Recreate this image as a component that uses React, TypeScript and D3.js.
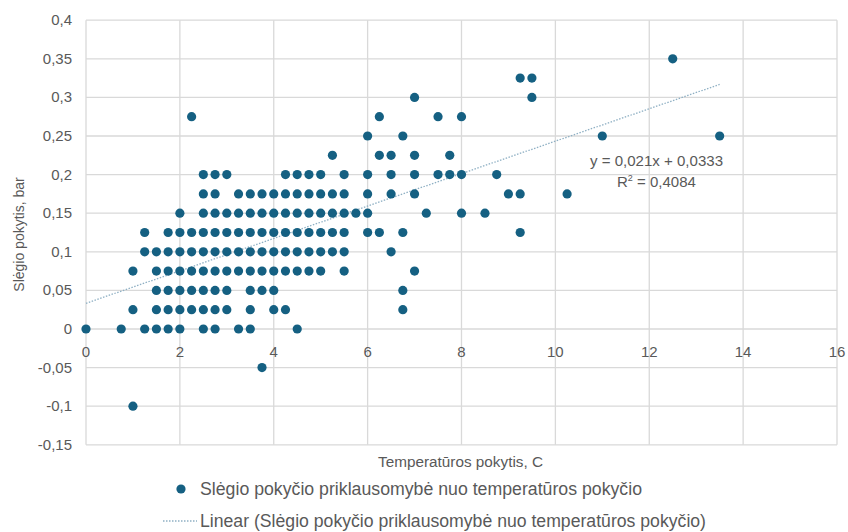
import React from "react";
import * as d3 from "d3";

// Pressure change levels (bar) and the temperature changes (C) observed at each level
const pressureLevels = [0.35, 0.325, 0.3, 0.275, 0.25, 0.225, 0.2, 0.175, 0.15, 0.125, 0.1, 0.075, 0.05, 0.025, 0, -0.05, -0.1];
const temperatureByLevel = [
  [12.5],
  [9.25, 9.5],
  [7.0, 9.5],
  [2.25, 6.25, 7.5, 8.0],
  [6.0, 6.75, 11.0, 13.5],
  [5.25, 6.25, 6.5, 7.0, 7.75],
  [2.5, 2.75, 3.0, 4.25, 4.5, 4.75, 5.0, 5.5, 6.0, 6.5, 7.0, 7.5, 7.75, 8.0, 8.75],
  [2.5, 2.75, 3.25, 3.5, 3.75, 4.0, 4.25, 4.5, 4.75, 5.0, 5.25, 5.5, 6.0, 6.5, 7.0, 9.0, 9.25, 10.25],
  [2.0, 2.5, 2.75, 3.0, 3.25, 3.5, 3.75, 4.0, 4.25, 4.5, 4.75, 5.0, 5.25, 5.5, 5.75, 6.0, 7.25, 8.0, 8.5],
  [1.25, 1.75, 2.0, 2.25, 2.5, 2.75, 3.0, 3.25, 3.5, 3.75, 4.0, 4.25, 4.5, 4.75, 5.0, 5.25, 5.5, 6.0, 6.25, 6.75, 9.25],
  [1.25, 1.5, 1.75, 2.0, 2.25, 2.5, 2.75, 3.0, 3.25, 3.5, 3.75, 4.0, 4.25, 4.5, 4.75, 5.0, 5.25, 5.5, 6.5],
  [1.0, 1.5, 1.75, 2.0, 2.25, 2.5, 2.75, 3.0, 3.25, 3.5, 3.75, 4.0, 4.25, 4.5, 4.75, 5.0, 5.5, 7.0],
  [1.5, 1.75, 2.0, 2.25, 2.5, 2.75, 3.0, 3.5, 3.75, 4.0, 6.75],
  [1.0, 1.5, 1.75, 2.0, 2.25, 2.5, 2.75, 3.0, 3.5, 4.0, 4.25, 6.75],
  [0, 0.75, 1.25, 1.5, 1.75, 2.0, 2.5, 2.75, 3.25, 3.5, 4.5],
  [3.75],
  [1.0],
];

const xTicks = [0, 2, 4, 6, 8, 10, 12, 14, 16];
const yTicks = [0.4, 0.35, 0.3, 0.25, 0.2, 0.15, 0.1, 0.05, 0, -0.05, -0.1, -0.15];

const trendSlope = 0.021;
const trendIntercept = 0.0333;
const trendXRange = [0, 13.5];
const equationText = "y = 0,021x + 0,0333";
const r2Value = "0,4084";

const xTitle = "Temperatūros pokytis, C";
const yTitle = "Slėgio pokytis, bar";
const seriesName = "Slėgio pokyčio priklausomybė nuo temperatūros pokyčio";
const trendName = "Linear (Slėgio pokyčio priklausomybė nuo temperatūros pokyčio)";

const W = 848;
const H = 532;
const plot = { left: 86, right: 837, top: 20.2, bottom: 444.8 };
const DOT = "#156082";
const TEXT = "#595959";
const GRID = "#d9d9d9";
const TREND = "#8fb0c4";
const FONT = "'Liberation Sans', Arial, sans-serif";

const locale = d3.formatLocale({ decimal: ",", thousands: " ", grouping: [3], currency: ["", ""], minus: "-" });
const fmt = locale.format("~g");

export default function App() {
  const x = d3.scaleLinear().domain([0, 16]).range([plot.left, plot.right]);
  const y = d3.scaleLinear().domain([-0.15, 0.4]).range([plot.bottom, plot.top]);

  const points = pressureLevels.flatMap((p, i) => temperatureByLevel[i].map((t) => ({ t, p })));
  const line = d3.line<number>().x((d) => x(d)).y((d) => y(trendSlope * d + trendIntercept));

  return (
    <svg width={W} height={H} style={{ position: "fixed", left: 0, top: 0, background: "#fff" }} fontFamily={FONT}>
      <rect width={W} height={H} fill="#fff" />
      {/* grid */}
      {xTicks.map((t) => (
        <line key={"gx" + t} x1={x(t)} x2={x(t)} y1={plot.top} y2={plot.bottom} stroke={GRID} strokeWidth={1.3} />
      ))}
      {yTicks.map((t) => (
        <line key={"gy" + t} x1={plot.left} x2={plot.right} y1={y(t)} y2={y(t)} stroke={GRID} strokeWidth={1.3} />
      ))}
      {/* y tick labels */}
      {yTicks.map((t) => (
        <text key={"ty" + t} x={72} y={y(t) + 5} textAnchor="end" fontSize={15} fill={TEXT}>
          {fmt(t)}
        </text>
      ))}
      {/* x tick labels */}
      {xTicks.map((t) => (
        <text key={"tx" + t} x={x(t)} y={y(0) + 28} textAnchor="middle" fontSize={15} fill={TEXT}>
          {fmt(t)}
        </text>
      ))}
      {/* trend line */}
      <path d={line(trendXRange) || ""} fill="none" stroke={TREND} strokeWidth={1.3} strokeDasharray="1.5 1.5" />
      {/* points */}
      {points.map((d, i) => (
        <circle key={i} cx={x(d.t)} cy={y(d.p)} r={4.6} fill={DOT} />
      ))}
      {/* equation */}
      <text x={590} y={166} fontSize={15} fill={TEXT} textLength={133} lengthAdjust="spacingAndGlyphs">{equationText}</text>
      <text x={617} y={187} fontSize={15} fill={TEXT}>
        R<tspan dy={-6} fontSize={9}>2</tspan><tspan dy={6}>{" = " + r2Value}</tspan>
      </text>
      {/* axis titles */}
      <text x={378} y={467} fontSize={15.5} fill={TEXT} textLength={165} lengthAdjust="spacingAndGlyphs">{xTitle}</text>
      <text transform={`translate(24, ${(plot.top + plot.bottom) / 2 + 2}) rotate(-90)`} textAnchor="middle" fontSize={14} fill={TEXT}>{yTitle}</text>
      {/* legend */}
      <circle cx={181} cy={489} r={4.6} fill={DOT} />
      <text x={200} y={495} fontSize={17.5} fill={TEXT} textLength={442} lengthAdjust="spacingAndGlyphs">{seriesName}</text>
      <line x1={163} x2={197} y1={521} y2={521} stroke={TREND} strokeWidth={1.3} strokeDasharray="1.5 1.5" />
      <text x={200} y={527} fontSize={17.5} fill={TEXT} textLength={506} lengthAdjust="spacingAndGlyphs">{trendName}</text>
    </svg>
  );
}
